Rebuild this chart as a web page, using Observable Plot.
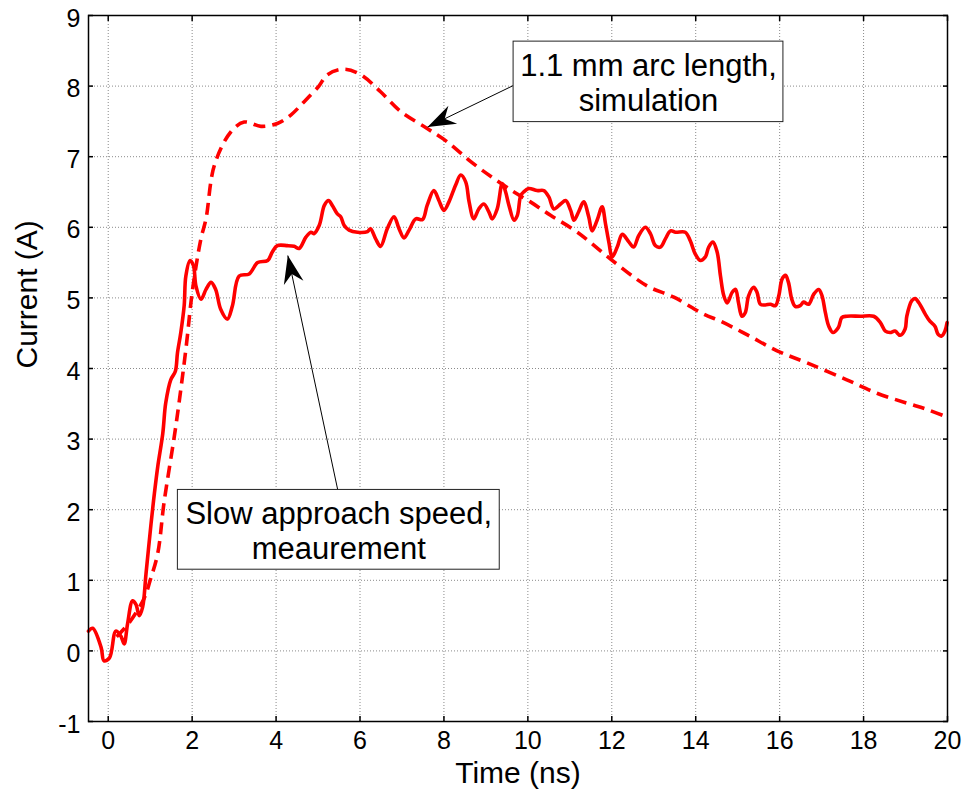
<!DOCTYPE html>
<html><head><meta charset="utf-8">
<script src="https://cdn.jsdelivr.net/npm/d3@7"></script>
<script src="https://cdn.jsdelivr.net/npm/@observablehq/plot@0.6"></script>
<style>body{margin:0;background:#fff;} #chart svg{display:block;}</style>
</head><body><div id="chart"></div>
<script>
// Simulation (dashed): 1.1 mm arc length
const simTime = [0.2,0.5,0.86,1.0,1.18,1.33,1.61,1.85,2.01,2.21,2.33,2.53,2.92,3.24,3.64,4.03,4.35,4.67,5.02,5.22,5.62,6.02,6.49,6.97,7.6,8.08,8.64,9.19,9.67,10.06,10.54,11.18,11.97,12.84,13.48,14.19,14.59,15.22,15.94,16.65,17.6,18.32,19.03,19.51,20];
const simCurrent = [0.2,0.4,0.75,1.0,1.38,2.1,3.18,4.27,5.12,5.84,6.12,6.88,7.35,7.49,7.43,7.47,7.59,7.78,8.0,8.16,8.24,8.16,7.92,7.64,7.40,7.21,6.93,6.69,6.50,6.36,6.17,5.93,5.55,5.17,5.01,4.77,4.67,4.48,4.25,4.08,3.84,3.65,3.51,3.42,3.31];

// Measurement (solid): slow approach speed
const measTime = [-0.47,-0.37,-0.17,-0.1,0.03,0.18,0.3,0.38,0.46,0.58,0.66,0.74,0.82,0.9,1.02,1.1,1.18,1.3,1.37,1.49,1.6,1.65,1.73,1.81,1.85,1.95,2.03,2.09,2.21,2.33,2.45,2.56,2.68,2.84,2.96,3.12,3.36,3.56,3.8,3.91,4.03,4.27,4.43,4.55,4.71,4.83,4.9,5.03,5.15,5.25,5.34,5.46,5.54,5.62,5.74,5.94,6.18,6.25,6.37,6.49,6.65,6.81,6.93,7.05,7.17,7.33,7.49,7.6,7.76,7.88,8.0,8.12,8.28,8.4,8.52,8.6,8.71,8.83,8.95,9.07,9.15,9.27,9.39,9.47,9.55,9.67,9.75,9.83,9.9,10.02,10.22,10.38,10.5,10.62,10.78,10.9,11.02,11.1,11.21,11.33,11.45,11.53,11.65,11.77,11.85,11.93,12.01,12.13,12.25,12.41,12.52,12.64,12.8,12.92,13.04,13.16,13.28,13.4,13.52,13.75,13.87,13.99,14.11,14.23,14.31,14.41,14.51,14.59,14.67,14.75,14.87,14.95,15.02,15.1,15.18,15.26,15.38,15.46,15.54,15.66,15.78,15.9,15.98,16.06,16.14,16.21,16.29,16.37,16.49,16.57,16.69,16.81,16.93,17.01,17.09,17.17,17.27,17.4,17.48,17.6,17.92,18.24,18.4,18.52,18.63,18.75,18.87,18.99,19.03,19.15,19.23,19.35,19.47,19.58,19.7,19.78,19.86,19.94,19.99];
const measCurrent = [0.28,0.32,0.05,-0.14,-0.1,0.28,0.21,0.1,0.38,0.71,0.66,0.5,0.62,1.09,1.8,2.23,2.61,3.08,3.51,3.84,3.96,4.22,4.51,4.89,5.31,5.53,5.46,5.17,4.98,5.12,5.22,5.12,4.84,4.7,4.89,5.31,5.34,5.5,5.53,5.65,5.74,5.74,5.73,5.7,5.86,5.93,5.91,6.03,6.31,6.38,6.31,6.19,6.15,6.03,5.96,5.93,5.94,5.98,5.84,5.73,5.98,6.15,5.98,5.85,5.96,6.12,6.11,6.31,6.52,6.38,6.24,6.36,6.6,6.74,6.64,6.36,6.12,6.26,6.33,6.22,6.12,6.26,6.62,6.5,6.31,6.1,6.17,6.45,6.5,6.55,6.52,6.52,6.43,6.26,6.33,6.38,6.24,6.1,6.22,6.36,6.15,5.95,6.1,6.29,6.05,5.79,5.58,5.72,5.9,5.79,5.72,5.88,6.0,5.91,5.74,5.72,5.84,5.95,5.93,5.93,5.81,5.62,5.53,5.58,5.72,5.79,5.65,5.31,5.03,4.93,5.08,5.12,4.93,4.74,4.79,5.03,5.15,5.08,4.91,4.9,4.91,4.89,5.03,5.27,5.32,5.22,4.98,4.88,4.89,4.94,4.91,5.05,5.12,5.03,4.79,4.6,4.51,4.58,4.72,4.74,4.74,4.74,4.65,4.53,4.51,4.53,4.47,4.56,4.74,4.96,4.99,4.9,4.77,4.67,4.6,4.48,4.46,4.53,4.65];

const xTicks = [0,2,4,6,8,10,12,14,16,18,20];
const yTicks = [-1,0,1,2,3,4,5,6,7,8,9];
const xLabel = "Time (ns)";
const yLabel = "Current (A)";

// Annotations (data coordinates)
const noteText = ["1.1 mm arc length,\nsimulation", "Slow approach speed,\nmeaurement"];
const noteX1 = [9.66, 1.66];
const noteX2 = [16.09, 9.33];
const noteY1 = [7.49, 1.15];
const noteY2 = [8.63, 2.28];
const arrowFromX = [9.66, 5.47];
const arrowFromY = [8.01, 2.28];
const arrowToX = [7.61, 4.28];
const arrowToY = [7.42, 5.6];

const sim = simTime.map((t, i) => ({t, c: simCurrent[i]}));
const meas = measTime.map((t, i) => ({t, c: measCurrent[i]}));
const notes = noteText.map((s, i) => ({s, x1: noteX1[i], x2: noteX2[i], y1: noteY1[i], y2: noteY2[i],
  ax1: arrowFromX[i], ay1: arrowFromY[i], ax2: arrowToX[i], ay2: arrowToY[i]}));

const font = "'Liberation Sans', Arial, Helvetica, sans-serif";
const fmt = d => String(d);

const chart = Plot.plot({
  width: 964,
  height: 801,
  marginLeft: 88,
  marginRight: 17,
  marginTop: 15,
  marginBottom: 80,
  style: {fontFamily: font, fontSize: "24px", color: "black", background: "white", overflow: "visible"},
  x: {domain: [-0.47, 20], ticks: xTicks},
  y: {domain: [-1, 9], ticks: yTicks},
  marks: [
    Plot.gridX(xTicks, {stroke: "#8a8a8a", strokeOpacity: 1, strokeWidth: 1, strokeDasharray: "1,2"}),
    Plot.gridY(yTicks, {stroke: "#8a8a8a", strokeOpacity: 1, strokeWidth: 1, strokeDasharray: "1,2"}),
    Plot.line(sim, {x: "t", y: "c", stroke: "#ff0000", strokeWidth: 3.6, strokeDasharray: "12,7", strokeLinecap: "butt", curve: "catmull-rom"}),
    Plot.line(meas, {x: "t", y: "c", stroke: "#ff0000", strokeWidth: 3.6, strokeLinejoin: "round", curve: "catmull-rom"}),
    Plot.frame({stroke: "black", strokeWidth: 1.5}),
    // inward ticks on all four sides
    Plot.axisX(xTicks, {anchor: "bottom", tickSize: 5, dy: -5, fill: "none", label: null, strokeWidth: 1.5}),
    Plot.axisX(xTicks, {anchor: "top", tickSize: 5, dy: 5, fill: "none", label: null, strokeWidth: 1.5}),
    Plot.axisY(yTicks, {anchor: "left", tickSize: 5, dx: 5, fill: "none", label: null, strokeWidth: 1.5}),
    Plot.axisY(yTicks, {anchor: "right", tickSize: 5, dx: -5, fill: "none", label: null, strokeWidth: 1.5}),
    // tick labels
    Plot.axisX(xTicks, {anchor: "bottom", tickSize: 0, tickPadding: 10, label: null, fontSize: 25, fill: "black", tickFormat: fmt}),
    Plot.axisY(yTicks, {anchor: "left", tickSize: 0, tickPadding: 8, label: null, fontSize: 25, fill: "black", dy: 3, tickFormat: fmt}),
    // axis titles
    Plot.text([xLabel], {frameAnchor: "bottom", dy: 61, fontSize: 30, fill: "black"}),
    Plot.text([yLabel], {frameAnchor: "left", dx: -61, rotate: -90, fontSize: 30, fill: "black"}),
    // annotations
    Plot.link(notes, {x1: "ax1", y1: "ay1", x2: "ax2", y2: "ay2", stroke: "black", strokeWidth: 1, markerEnd: "arrow"}),
    Plot.rect(notes, {x1: "x1", x2: "x2", y1: "y1", y2: "y2", fill: "white", stroke: "#222", strokeWidth: 1}),
    Plot.text(notes, {x: d => (d.x1 + d.x2) / 2, y: d => (d.y1 + d.y2) / 2, text: "s", fontSize: 31, lineHeight: 1.13, fill: "black"})
  ]
});

// Filled arrowheads for annotation arrows
chart.querySelectorAll("marker").forEach(m => {
  m.setAttribute("viewBox", "-30 -12 32 24");
  m.setAttribute("markerWidth", "32");
  m.setAttribute("markerHeight", "24");
  m.setAttribute("markerUnits", "userSpaceOnUse");
  m.setAttribute("refX", "0");
  m.setAttribute("refY", "0");
  m.setAttribute("fill", "black");
  m.setAttribute("stroke", "none");
  const p = m.querySelector("path");
  if (p) p.setAttribute("d", "M0,0L-28,-10L-19,0L-28,10Z");
});

document.getElementById("chart").appendChild(chart);
</script>
</body></html>
